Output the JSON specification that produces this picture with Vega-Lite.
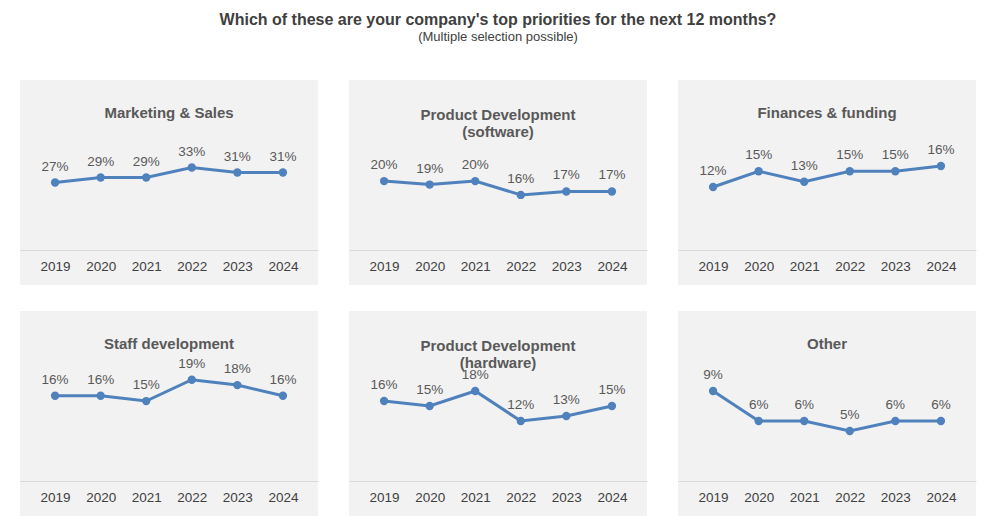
{
"$schema":"https://vega.github.io/schema/vega-lite/v6.json",
"padding":{"left":20,"top":12,"right":10,"bottom":5},
"background":"white",
"title":{"text":"Which of these are your company's top priorities for the next 12 months?","subtitle":"(Multiple selection possible)","fontSize":16,"font":"Liberation Sans","fontWeight":"bold","color":"#404040","subtitleFont":"Liberation Sans","subtitleFontSize":13,"subtitleColor":"#404040","subtitlePadding":3,"offset":36,"anchor":"middle"},
"datasets":{"d":[
{"p":"ms","year":"2019","v":27},{"p":"ms","year":"2020","v":29},{"p":"ms","year":"2021","v":29},{"p":"ms","year":"2022","v":33},{"p":"ms","year":"2023","v":31},{"p":"ms","year":"2024","v":31},
{"p":"sw","year":"2019","v":20},{"p":"sw","year":"2020","v":19},{"p":"sw","year":"2021","v":20},{"p":"sw","year":"2022","v":16},{"p":"sw","year":"2023","v":17},{"p":"sw","year":"2024","v":17},
{"p":"fi","year":"2019","v":12},{"p":"fi","year":"2020","v":15},{"p":"fi","year":"2021","v":13},{"p":"fi","year":"2022","v":15},{"p":"fi","year":"2023","v":15},{"p":"fi","year":"2024","v":16},
{"p":"st","year":"2019","v":16},{"p":"st","year":"2020","v":16},{"p":"st","year":"2021","v":15},{"p":"st","year":"2022","v":19},{"p":"st","year":"2023","v":18},{"p":"st","year":"2024","v":16},
{"p":"hw","year":"2019","v":16},{"p":"hw","year":"2020","v":15},{"p":"hw","year":"2021","v":18},{"p":"hw","year":"2022","v":12},{"p":"hw","year":"2023","v":13},{"p":"hw","year":"2024","v":15},
{"p":"ot","year":"2019","v":9},{"p":"ot","year":"2020","v":6},{"p":"ot","year":"2021","v":6},{"p":"ot","year":"2022","v":5},{"p":"ot","year":"2023","v":6},{"p":"ot","year":"2024","v":6}
]},
"config":{
"view":{"fill":"#f2f2f2","stroke":null},
"font":"Liberation Sans",
"axisX":{"title":null,"labelAngle":0,"ticks":false,"grid":false,"domainColor":"#d9d9d9","labelColor":"#404040","labelFontSize":13.5,"labelPadding":9,"offset":-35},
"title":{"fontSize":15,"fontWeight":"bold","color":"#595959","anchor":"middle","baseline":"bottom"},
"concat":{"spacing":31}
},
"vconcat":[
{"spacing":31,"hconcat":[
{"title":{"text":"Marketing & Sales","offset":-41},"width":298,"height":205,"data":{"name":"d"},"transform":[{"filter":"datum.p=='ms'"},{"calculate":"datum.v+'%'","as":"lab"}],
"encoding":{"x":{"field":"year","type":"ordinal","scale":{"type":"point","padding":0.77}},"y":{"field":"v","type":"quantitative","axis":null,"scale":{"domain":[-14,68],"nice":false,"zero":false}}},
"layer":[{"mark":{"type":"line","color":"#4f81bd","strokeWidth":3,"point":{"filled":true,"size":70,"color":"#4f81bd"}}},{"mark":{"type":"text","dy":-16,"fontSize":13.5,"color":"#595959"},"encoding":{"text":{"field":"lab"}}}]},
{"title":{"text":["Product Development","(software)"],"offset":-60},"width":298,"height":205,"data":{"name":"d"},"transform":[{"filter":"datum.p=='sw'"},{"calculate":"datum.v+'%'","as":"lab"}],
"encoding":{"x":{"field":"year","type":"ordinal","scale":{"type":"point","padding":0.77}},"y":{"field":"v","type":"quantitative","axis":null,"scale":{"domain":[-10.1,49.3],"nice":false,"zero":false}}},
"layer":[{"mark":{"type":"line","color":"#4f81bd","strokeWidth":3,"point":{"filled":true,"size":70,"color":"#4f81bd"}}},{"mark":{"type":"text","dy":-16,"fontSize":13.5,"color":"#595959"},"encoding":{"text":{"field":"lab"}}}]},
{"title":{"text":"Finances & funding","offset":-41},"width":298,"height":205,"data":{"name":"d"},"transform":[{"filter":"datum.p=='fi'"},{"calculate":"datum.v+'%'","as":"lab"}],
"encoding":{"x":{"field":"year","type":"ordinal","scale":{"type":"point","padding":0.77}},"y":{"field":"v","type":"quantitative","axis":null,"scale":{"domain":[-6.67,32.4],"nice":false,"zero":false}}},
"layer":[{"mark":{"type":"line","color":"#4f81bd","strokeWidth":3,"point":{"filled":true,"size":70,"color":"#4f81bd"}}},{"mark":{"type":"text","dy":-16,"fontSize":13.5,"color":"#595959"},"encoding":{"text":{"field":"lab"}}}]}
]},
{"spacing":31,"hconcat":[
{"title":{"text":"Staff development","offset":-41},"width":298,"height":205,"data":{"name":"d"},"transform":[{"filter":"datum.p=='st'"},{"calculate":"datum.v+'%'","as":"lab"}],
"encoding":{"x":{"field":"year","type":"ordinal","scale":{"type":"point","padding":0.77}},"y":{"field":"v","type":"quantitative","axis":null,"scale":{"domain":[-6.56,31.9],"nice":false,"zero":false}}},
"layer":[{"mark":{"type":"line","color":"#4f81bd","strokeWidth":3,"point":{"filled":true,"size":70,"color":"#4f81bd"}}},{"mark":{"type":"text","dy":-16,"fontSize":13.5,"color":"#595959"},"encoding":{"text":{"field":"lab"}}}]},
{"title":{"text":["Product Development","(hardware)"],"offset":-60},"width":298,"height":205,"data":{"name":"d"},"transform":[{"filter":"datum.p=='hw'"},{"calculate":"datum.v+'%'","as":"lab"}],
"encoding":{"x":{"field":"year","type":"ordinal","scale":{"type":"point","padding":0.77}},"y":{"field":"v","type":"quantitative","axis":null,"scale":{"domain":[-7,34],"nice":false,"zero":false}}},
"layer":[{"mark":{"type":"line","color":"#4f81bd","strokeWidth":3,"point":{"filled":true,"size":70,"color":"#4f81bd"}}},{"mark":{"type":"text","dy":-16,"fontSize":13.5,"color":"#595959"},"encoding":{"text":{"field":"lab"}}}]},
{"title":{"text":"Other","offset":-41},"width":298,"height":205,"data":{"name":"d"},"transform":[{"filter":"datum.p=='ot'"},{"calculate":"datum.v+'%'","as":"lab"}],
"encoding":{"x":{"field":"year","type":"ordinal","scale":{"type":"point","padding":0.77}},"y":{"field":"v","type":"quantitative","axis":null,"scale":{"domain":[-3.5,17],"nice":false,"zero":false}}},
"layer":[{"mark":{"type":"line","color":"#4f81bd","strokeWidth":3,"point":{"filled":true,"size":70,"color":"#4f81bd"}}},{"mark":{"type":"text","dy":-16,"fontSize":13.5,"color":"#595959"},"encoding":{"text":{"field":"lab"}}}]}
]}
],
"spacing":26
}
